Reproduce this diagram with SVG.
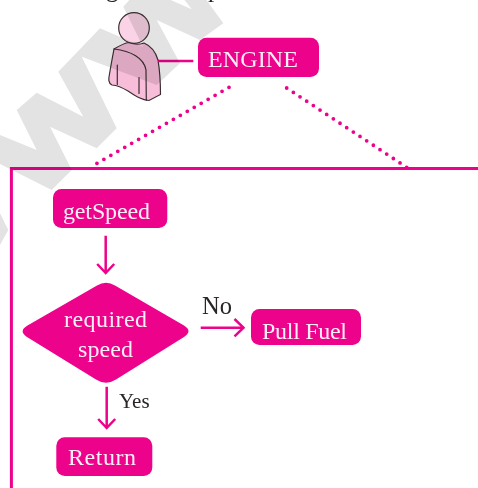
<svg xmlns="http://www.w3.org/2000/svg" width="478" height="488" viewBox="0 0 478 488">
<style>
.box{fill:#ed028c}
.lbl{font-family:"Liberation Serif","Times New Roman",serif;font-size:24px;fill:#fdeef6;text-anchor:start}
.dark{font-family:"Liberation Serif","Times New Roman",serif;fill:#2a2526}
.conn{fill:none;stroke:#ed028c;stroke-width:2.500}
.dot{fill:none;stroke:#ed028c;stroke-width:3.800;stroke-linecap:round}
.ink{fill:none;stroke:#3a3032;stroke-width:1.200;stroke-linejoin:round;stroke-linecap:round}
</style>
<rect width="478" height="488" fill="#fff"/>
<text class="dark" x="106" y="-3" font-size="25">g</text>
<text class="dark" x="208" y="-3.500" font-size="25">p</text>
<g id="person">
<path d="M114 49C119 46 124 43 129 42.500C134 44.500 140 44.500 144 43C151 46 156 53 158 60C160 72 160.500 84 160.500 94.500L149 100.500C142 100 137 97 128 91C123 88 118 85.500 112 85C108 83 108.500 79 109.500 74C111 65 112.500 57 114 49Z" fill="#f8bdd9" stroke="#3a3032" stroke-width="1.200"/>
<circle cx="134" cy="28" r="15.300" fill="#fad4e6" stroke="#3a3032" stroke-width="1.200"/>
<path class="ink" d="M114 49C131 51 144 58 146 70L146.300 100.500"/>
<path class="ink" d="M117.300 65V84.500M139 77.500V93.500"/>
</g>
<g id="connectors">
<path class="conn" d="M158 61H193.300"/>
<path class="dot" stroke-dasharray="0 8.020" d="M229 87.300L90 167.300"/>
<path class="dot" stroke-dasharray="0 7.990" d="M286.700 88L406.700 167.300"/>
<path class="conn" d="M105.700 235.700V273M97.200 264L105.700 273L114.200 264"/>
<path class="conn" d="M200.700 327.700H243.500M234.500 319L243.500 327.700L234.500 336.400"/>
<path class="conn" d="M106.700 386.700V428M98.200 419L106.700 428L115.200 419"/>
</g>
<path id="frame" d="M478 168.400H11.400V488" fill="none" stroke="#ed028c" stroke-width="3"/>
<g id="engine"><rect class="box" x="198" y="37.700" width="121" height="39.300" rx="8.500"/><text class="lbl" x="208" y="67" textLength="90">ENGINE</text></g>
<g id="getspeed"><rect class="box" x="53" y="189" width="114.300" height="39" rx="8.500"/><text class="lbl" x="63" y="219.300" textLength="87">getSpeed</text></g>
<g id="required-speed"><path class="box" d="M97 285.500Q106 280 115 285.500L184 325.500Q193 331 184 337L116 379.500Q106 386 96 379.500L27 337Q18 331 27.500 325.500Z"/><text class="lbl" x="64" y="326.700" textLength="83">required</text><text class="lbl" x="78" y="356.700" textLength="55">speed</text></g>
<g id="pull-fuel"><rect class="box" x="251" y="309" width="110" height="36" rx="8.500"/><text class="lbl" x="262" y="339" textLength="85">Pull Fuel</text></g>
<g id="return"><rect class="box" x="56.300" y="437.300" width="96" height="38.700" rx="8.500"/><text class="lbl" x="68" y="465" textLength="68">Return</text></g>
<text class="dark" x="202" y="314" font-size="24.500">No</text>
<text class="dark" x="119" y="407.700" font-size="21">Yes</text>
<g id="watermark" style="mix-blend-mode:multiply">
<path fill="#e3e3e3" d="M0 135L36.700 150L16.700 110L36.700 92.700L83.300 116.700L58.300 71.700L100 28.300L143 46.700L123.300 6.700L140 -12H165V-2.500L191.700 9.300L183 -2H205L223.300 23.300L200 40L156.700 20L180 63.300L156.700 85L81.700 56.700L116.700 128.300L96.700 148.300L50 126.700L71.700 170L51.700 190L0 164Z"/>
<path fill="#e3e3e3" d="M0 213.300L8.300 230L0 245Z"/>
</g>
</svg>
